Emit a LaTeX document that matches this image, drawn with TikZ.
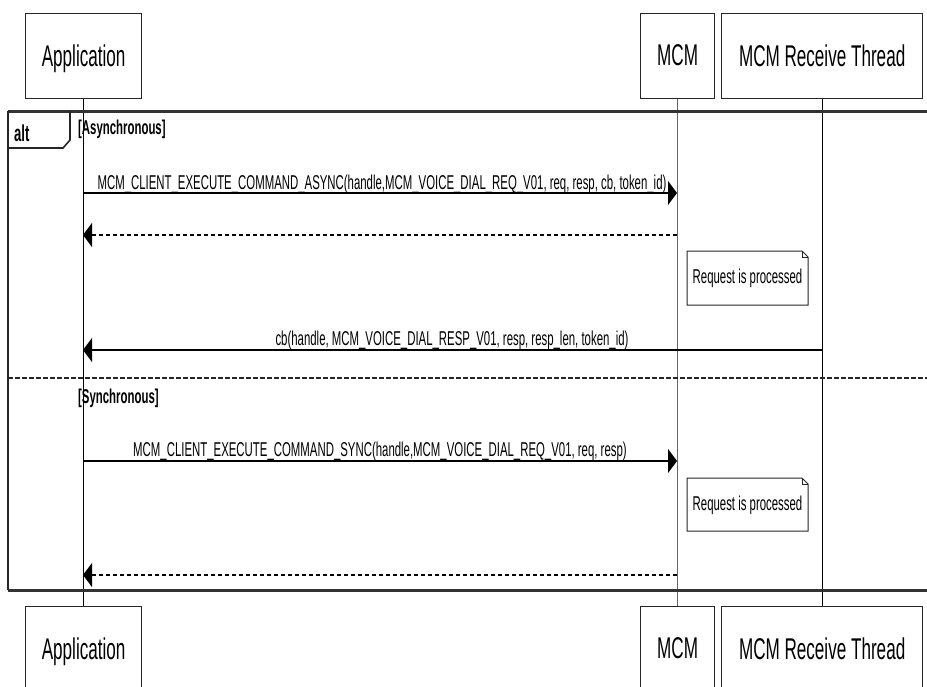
\documentclass[tikz,border=0pt]{standalone}
\usepackage{fontspec}
\setmainfont{Liberation Sans}[FakeStretch=0.57]
\usetikzlibrary{arrows.meta}
\begin{document}
\begin{tikzpicture}[x=1pt,y=-1pt,
  partbox/.style={draw=black!85, line width=1.3pt, minimum height=85pt, inner sep=0pt, anchor=north west, text depth=2pt, font=\fontsize{30}{36}\selectfont},
  lifeline/.style={line width=1pt, draw=black},
  msg/.style={line width=1.1pt, -{Triangle[length=9pt,width=24pt]}},
  ret/.style={line width=1.1pt, dash pattern=on 4pt off 3pt, -{Triangle[length=9pt,width=24pt]}},
  lbl/.style={anchor=base, inner sep=0pt, font=\fontsize{20}{24}\selectfont},
  guard/.style={anchor=base west, inner sep=0pt, font=\bfseries\fontsize{20}{24}\selectfont},
  notetext/.style={inner sep=0pt, font=\fontsize{20}{24}\selectfont},
  notebox/.style={line width=1pt, draw=black!85},
  framel/.style={line width=3pt, draw=black!80}
]
\useasboundingbox (0,0) rectangle (927,686);
\clip (0,0) rectangle (927,686);

% participants
\node[partbox, minimum width=116pt] (appT) at (25,13) {Application};
\node[partbox, minimum width=74pt] (mcmT) at (640,13) {MCM};
\node[partbox, minimum width=201pt] (rcvT) at (721,13) {MCM Receive Thread};
\node[partbox, minimum width=116pt] (appB) at (25,606) {Application};
\node[partbox, minimum width=74pt] (mcmB) at (640,606) {MCM};
\node[partbox, minimum width=201pt] (rcvB) at (721,606) {MCM Receive Thread};

% lifelines
\draw[lifeline] (appT.south) -- (appB.north);
\draw[lifeline, draw=black!60, line width=1.4pt] (mcmT.south) -- (mcmB.north);
\draw[lifeline] (rcvT.south) -- (rcvB.north);

% alt frame
\draw[framel] (8,111) -- (945,111);
\draw[framel] (8,590) -- (945,590);
\draw[line width=2.2pt, draw=black!85] (8,111) -- (8,590);
\draw[line width=1.6pt, draw=black!85] (8,148) -- (63,148) -- (70,140) -- (70,111);
\node[anchor=base west, inner sep=0pt, font=\bfseries\fontsize{23}{26}\selectfont] (altlbl) at (14,141) {alt};
\node[guard] (g1) at (78,134) {[Asynchronous]};
\draw[line width=2.4pt, draw=black!85, dash pattern=on 5pt off 2pt] (8,378) -- (945,378);
\node[guard] (g2) at (78,403) {[Synchronous]};

% coordinates on lifelines
\coordinate (a1) at (83,193);   \coordinate (m1) at (677,193);
\coordinate (m2) at (677,235);  \coordinate (a2) at (83,235);
\coordinate (r3) at (822,350);  \coordinate (a3) at (83,350);
\coordinate (a4) at (83,461);   \coordinate (m4) at (677,461);
\coordinate (m5) at (677,575);  \coordinate (a5) at (83,575);

% messages
\draw[msg] (a1) -- (m1);
\node[lbl] (l1) at (382,189) {MCM\_CLIENT\_EXECUTE\_COMMAND\_ASYNC(handle,MCM\_VOICE\_DIAL\_REQ\_V01, req, resp, cb, token\_id)};
\draw[ret] (m2) -- (a2);
\draw[msg] (r3) -- (a3);
\node[lbl] (l3) at (452,345) {cb(handle, MCM\_VOICE\_DIAL\_RESP\_V01, resp, resp\_len, token\_id)};
\draw[msg] (a4) -- (m4);
\node[lbl] (l4) at (380,456) {MCM\_CLIENT\_EXECUTE\_COMMAND\_SYNC(handle,MCM\_VOICE\_DIAL\_REQ\_V01, req, resp)};
\draw[ret] (m5) -- (a5);

% notes
\draw[notebox, fill=white] (687,251) -- (802,251) -- (808,257) -- (808,305) -- (687,305) -- cycle;
\draw[notebox] (802,251) -- (802,257) -- (808,257);
\node[notetext] (n1) at (747.5,278) {Request is processed};
\draw[notebox, fill=white] (687,478) -- (802,478) -- (808,484) -- (808,531) -- (687,531) -- cycle;
\draw[notebox] (802,478) -- (802,484) -- (808,484);
\node[notetext] (n2) at (747.5,505) {Request is processed};
\end{tikzpicture}
\end{document}
